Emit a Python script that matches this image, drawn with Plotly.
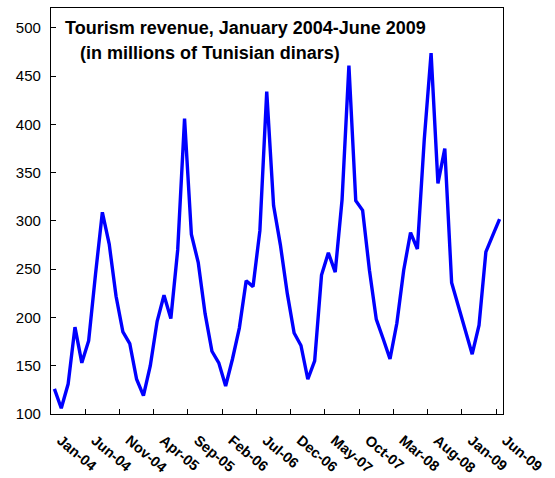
import pandas as pd
import plotly.graph_objects as go

months = pd.date_range("2004-01-01", "2009-06-01", freq="MS").strftime("%b-%y").tolist()

revenue = [
    126, 106, 131, 190, 153, 176, 245, 309, 276, 222,
    185, 173, 136, 119, 150, 196, 223, 199, 270, 406,
    286, 257, 204, 165, 153, 129, 157, 189, 238, 232,
    290, 434, 316, 275, 225, 184, 171, 136, 155, 244,
    267, 247, 322, 461, 321, 311, 249, 198, 178, 157,
    194, 249, 288, 271, 384, 474, 339, 375, 236, 211,
    187, 162, 192, 268, 285, 302,
]

label_step = 5
label_vals = months[::label_step]
# small non-breaking lead-in so rotated labels sit like Excel's
label_text = ["\u00a0\u00a0" + m for m in label_vals]

title_line1 = "Tourism revenue, January 2004-June 2009"
title_line2 = "(in millions of Tunisian dinars)"

FONT = "Liberation Sans, Arial, sans-serif"

fig = go.Figure()
fig.add_trace(go.Scatter(
    x=months, y=revenue, mode="lines",
    line=dict(color="#0000FF", width=3.4),
    hoverinfo="x+y", showlegend=False,
))

fig.update_layout(
    width=555, height=478,
    margin=dict(l=51, r=52, t=8, b=64),
    paper_bgcolor="white", plot_bgcolor="white",
    font=dict(family=FONT, color="black"),
    xaxis=dict(
        type="category", range=[-0.5, len(months) - 0.5],
        categoryorder="array", categoryarray=months,
        tickmode="array", tickvals=label_vals, ticktext=label_text,
        tickson="boundaries",
        ticks="inside", ticklen=5, tickcolor="black", tickwidth=1,
        tickangle=40,
        tickfont=dict(family=FONT, size=14.5, color="black", weight="bold"),
        ticklabelstandoff=6, automargin=False,
        showline=True, linecolor="black", linewidth=1.3, mirror=True,
        showgrid=False, zeroline=False,
    ),
    yaxis=dict(
        range=[100, 520.7],
        tickmode="array", tickvals=[100, 150, 200, 250, 300, 350, 400, 450, 500],
        ticks="inside", ticklen=5, tickcolor="black", tickwidth=1,
        tickfont=dict(family=FONT, size=15, color="black"),
        ticklabelstandoff=6, automargin=False,
        showline=True, linecolor="black", linewidth=1.3, mirror=True,
        showgrid=False, zeroline=False,
    ),
    annotations=[
        dict(text=title_line1, xref="paper", yref="paper", x=0.027, y=0.951,
             xanchor="left", yanchor="middle", showarrow=False,
             font=dict(family=FONT, size=18, color="black", weight="bold")),
        dict(text=title_line2, xref="paper", yref="paper", x=0.060, y=0.889,
             xanchor="left", yanchor="middle", showarrow=False,
             font=dict(family=FONT, size=18, color="black", weight="bold")),
    ],
)

fig.write_html(
    "out.html",
    config={"displayModeBar": False},
    post_script="document.body.style.margin='0';document.body.style.overflow='hidden';",
)
